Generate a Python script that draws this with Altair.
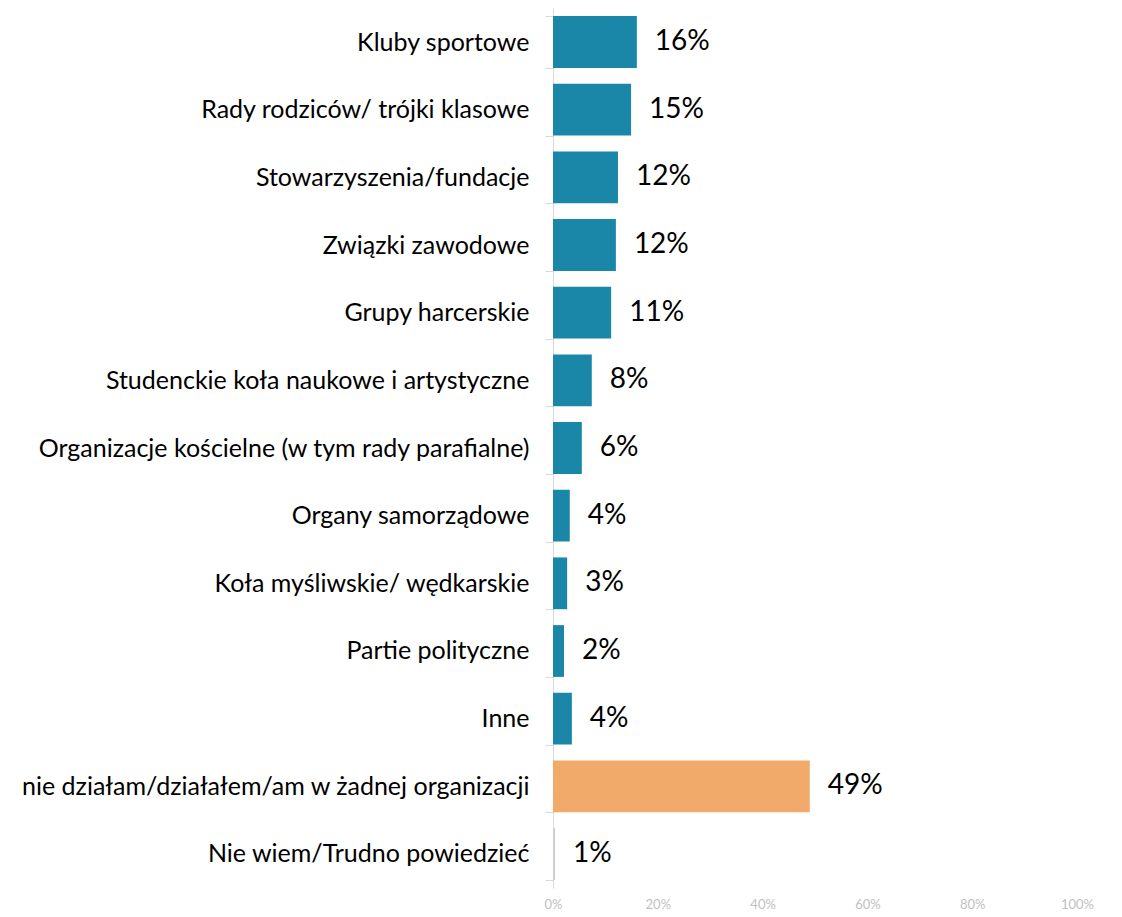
import altair as alt
import pandas as pd

categories = [
    "Kluby sportowe",
    "Rady rodziców/ trójki klasowe",
    "Stowarzyszenia/fundacje",
    "Związki zawodowe",
    "Grupy harcerskie",
    "Studenckie koła naukowe i artystyczne",
    "Organizacje kościelne (w tym rady parafialne)",
    "Organy samorządowe",
    "Koła myśliwskie/ wędkarskie",
    "Partie polityczne",
    "Inne",
    "nie działam/działałem/am w żadnej organizacji",
    "Nie wiem/Trudno powiedzieć",
]
values = [16.0, 14.9, 12.4, 12.0, 11.1, 7.4, 5.5, 3.2, 2.7, 2.1, 3.6, 49.0, 0.4]
labels = ["16%", "15%", "12%", "12%", "11%", "8%", "6%", "4%", "3%", "2%", "4%", "49%", "1%"]
groups = ["org"] * 11 + ["none", "dk"]

df = pd.DataFrame({"cat": categories, "val": values, "lab": labels, "grp": groups})

FONT = "Lato"

y_enc = alt.Y(
    "cat:N",
    sort=categories,
    title=None,
    scale=alt.Scale(paddingInner=0.235, paddingOuter=0.12),
    axis=alt.Axis(
        labelFontSize=25,
        labelFont=FONT,
        labelColor="#000000",
        labelPadding=16,
        tickBand="extent",
        tickSize=8,
        tickColor="#d9d9d9",
        domainColor="#d9d9d9",
        labelLimit=600,
    ),
)
x_enc = alt.X(
    "val:Q",
    title=None,
    scale=alt.Scale(domain=[0, 100], nice=False),
    axis=alt.Axis(
        values=[0, 20, 40, 60, 80, 100],
        labelExpr="datum.value + '%'",
        labelFontSize=13,
        labelFont=FONT,
        labelColor="#bfbfbf",
        labelFlush=False,
        domain=False,
        ticks=False,
        grid=False,
        labelPadding=10,
    ),
)

bars = alt.Chart(df).mark_bar().encode(
    y=y_enc,
    x=x_enc,
    color=alt.Color(
        "grp:N",
        scale=alt.Scale(domain=["org", "none", "dk"], range=["#1a86a8", "#f2aa6b", "#cfcfcf"]),
        legend=None,
    ),
)

text = alt.Chart(df).mark_text(
    align="left", baseline="middle", dx=18, fontSize=28, font=FONT, color="#000000"
).encode(
    y=alt.Y("cat:N", sort=categories),
    x=alt.X("val:Q"),
    text="lab:N",
)

chart = (
    alt.layer(bars, text)
    .properties(
        width=524,
        height=880,
        autosize=alt.AutoSizeParams(type="none"),
        padding={"left": 545, "top": 0, "right": 30, "bottom": 26},
    )
    .configure_view(stroke=None)
)

chart.save("out.html", embed_options={"renderer": "svg", "actions": False})
